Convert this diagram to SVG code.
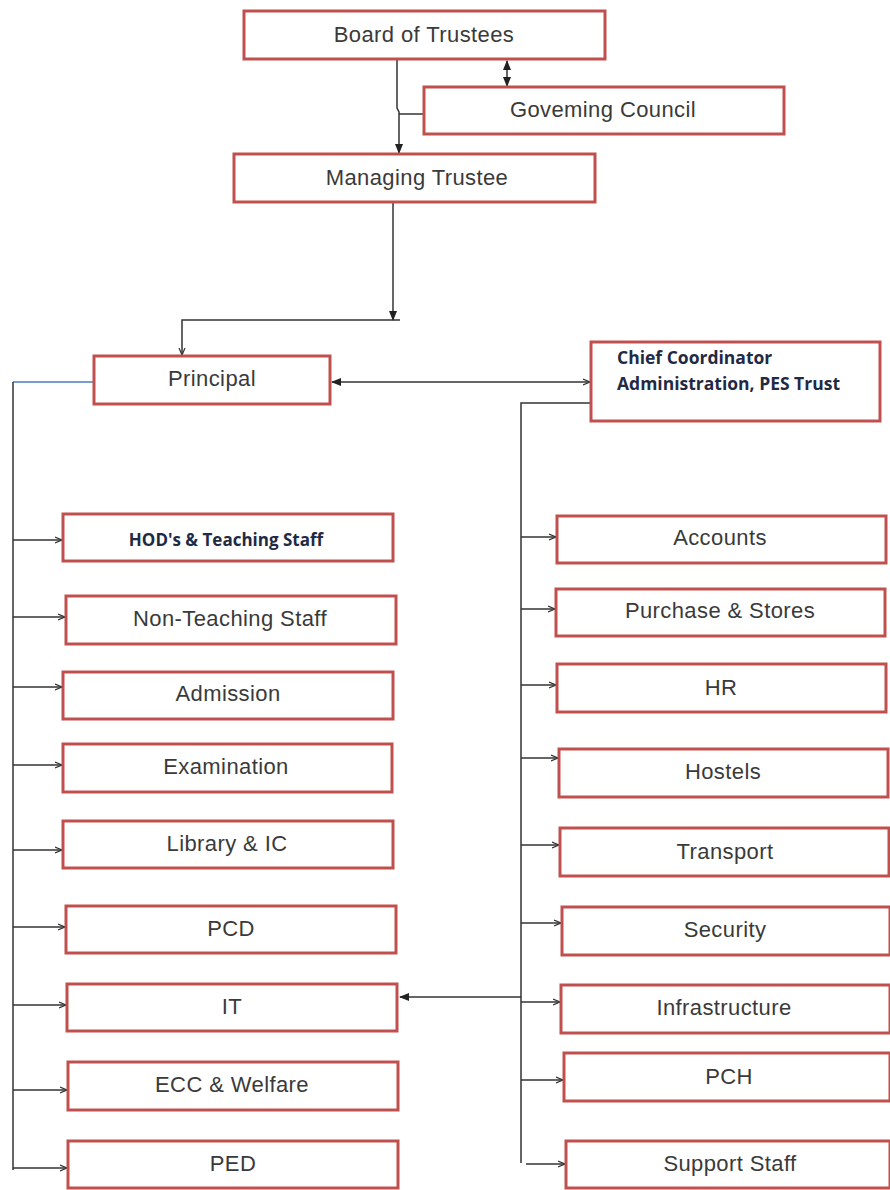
<svg xmlns="http://www.w3.org/2000/svg" width="890" height="1190" viewBox="0 0 890 1190">
<style>
.box{fill:#fff;stroke:#c0504d;stroke-width:3}
.t{font-family:"Liberation Sans",Arial,sans-serif;font-size:22px;letter-spacing:0.4px;fill:#3a3a3a;text-anchor:middle}
.b{font-family:"Open Sans","Liberation Sans",sans-serif;font-size:17.5px;font-weight:bold;fill:#1f2a44}
.c{fill:none;stroke:#333;stroke-width:1.5}
</style>
<defs>
<marker id="a" markerWidth="10" markerHeight="8" refX="9" refY="4" orient="auto" markerUnits="userSpaceOnUse"><path d="M0,0 L10,4 L0,8 Z" fill="#222"/></marker>
<marker id="o" markerWidth="8" markerHeight="8" refX="7" refY="4" orient="auto" markerUnits="userSpaceOnUse"><path d="M0,1 L7,4 L0,7" fill="none" stroke="#333" stroke-width="1.2"/></marker>
<marker id="s" markerWidth="10" markerHeight="8" refX="1" refY="4" orient="auto" markerUnits="userSpaceOnUse"><path d="M10,0 L0,4 L10,8 Z" fill="#222"/></marker>
</defs>
<g id="connectors">
<path class="c" d="M507,61 V86" marker-start="url(#s)" marker-end="url(#a)"/>
<path class="c" d="M397,59 V108 L399,112 V153" marker-end="url(#a)"/>
<path class="c" d="M399,114 H424"/>
<path class="c" d="M393,202 V320" marker-end="url(#a)"/>
<path class="c" d="M400,320 H182 V355" marker-end="url(#o)"/>
<path class="c" d="M332,382 H590" marker-start="url(#s)" marker-end="url(#o)"/>
<path d="M93,382 H13" fill="none" stroke="#4a7ebb" stroke-width="1.5"/>
<path class="c" d="M13,382 V1170"/>
<path class="c" d="M13,540 H62" marker-end="url(#o)"/>
<path class="c" d="M13,617 H65" marker-end="url(#o)"/>
<path class="c" d="M13,687 H62" marker-end="url(#o)"/>
<path class="c" d="M13,765 H62" marker-end="url(#o)"/>
<path class="c" d="M13,850 H62" marker-end="url(#o)"/>
<path class="c" d="M13,927 H65" marker-end="url(#o)"/>
<path class="c" d="M13,1005 H66" marker-end="url(#o)"/>
<path class="c" d="M13,1090 H67" marker-end="url(#o)"/>
<path class="c" d="M13,1168 H67" marker-end="url(#o)"/>
<path class="c" d="M591,403 H521 V1163"/>
<path class="c" d="M521,537 H556" marker-end="url(#o)"/>
<path class="c" d="M521,609 H555" marker-end="url(#o)"/>
<path class="c" d="M521,685 H556" marker-end="url(#o)"/>
<path class="c" d="M521,758 H558" marker-end="url(#o)"/>
<path class="c" d="M521,845 H559" marker-end="url(#o)"/>
<path class="c" d="M521,923 H561" marker-end="url(#o)"/>
<path class="c" d="M521,1002 H560" marker-end="url(#o)"/>
<path class="c" d="M521,1080 H563" marker-end="url(#o)"/>
<path class="c" d="M526,1164 H565" marker-end="url(#o)"/>
<path class="c" d="M521,997 H400" marker-end="url(#a)"/>
</g>
<g id="board"><rect class="box" x="244" y="11" width="361" height="48"/><text class="t" x="424" y="42">Board of Trustees</text></g>
<g id="council"><rect class="box" x="424" y="87" width="360" height="47"/><text class="t" x="603" y="117">Goveming Council</text></g>
<g id="managing"><rect class="box" x="234" y="154" width="361" height="48"/><text class="t" x="417" y="185">Managing Trustee</text></g>
<g id="principal"><rect class="box" x="94" y="356" width="236" height="48"/><text class="t" x="212" y="386">Principal</text></g>
<g id="chief"><rect class="box" x="591" y="342" width="289" height="79"/><text class="b" x="617" y="364">Chief Coordinator</text><text class="b" x="617" y="390">Administration, PES Trust</text></g>
<g id="hod"><rect class="box" x="63" y="514" width="330" height="47"/><text class="b" x="226" y="546" text-anchor="middle" style="font-size:17px">HOD's &amp; Teaching Staff</text></g>
<g id="nonteaching"><rect class="box" x="66" y="596" width="330" height="48"/><text class="t" x="230" y="626">Non-Teaching Staff</text></g>
<g id="admission"><rect class="box" x="63" y="672" width="330" height="47"/><text class="t" x="228" y="701">Admission</text></g>
<g id="examination"><rect class="box" x="63" y="744" width="329" height="48"/><text class="t" x="226" y="774">Examination</text></g>
<g id="library"><rect class="box" x="63" y="821" width="330" height="47"/><text class="t" x="227" y="851">Library &amp; IC</text></g>
<g id="pcd"><rect class="box" x="66" y="906" width="330" height="47"/><text class="t" x="231" y="936">PCD</text></g>
<g id="it"><rect class="box" x="67" y="984" width="330" height="47"/><text class="t" x="232" y="1014">IT</text></g>
<g id="ecc"><rect class="box" x="68" y="1062" width="330" height="48"/><text class="t" x="232" y="1092">ECC &amp; Welfare</text></g>
<g id="ped"><rect class="box" x="68" y="1141" width="330" height="47"/><text class="t" x="233" y="1171">PED</text></g>
<g id="accounts"><rect class="box" x="557" y="516" width="329" height="47"/><text class="t" x="720" y="545">Accounts</text></g>
<g id="purchase"><rect class="box" x="556" y="589" width="329" height="47"/><text class="t" x="720" y="618">Purchase &amp; Stores</text></g>
<g id="hr"><rect class="box" x="557" y="664" width="329" height="48"/><text class="t" x="721" y="695">HR</text></g>
<g id="hostels"><rect class="box" x="559" y="749" width="329" height="48"/><text class="t" x="723" y="779">Hostels</text></g>
<g id="transport"><rect class="box" x="560" y="828" width="329" height="48"/><text class="t" x="725" y="859">Transport</text></g>
<g id="security"><rect class="box" x="562" y="907" width="328" height="48"/><text class="t" x="725" y="937">Security</text></g>
<g id="infrastructure"><rect class="box" x="561" y="985" width="329" height="48"/><text class="t" x="724" y="1015">Infrastructure</text></g>
<g id="pch"><rect class="box" x="564" y="1053" width="326" height="48"/><text class="t" x="729" y="1084">PCH</text></g>
<g id="support"><rect class="box" x="566" y="1141" width="324" height="47"/><text class="t" x="730" y="1171">Support Staff</text></g>
</svg>
